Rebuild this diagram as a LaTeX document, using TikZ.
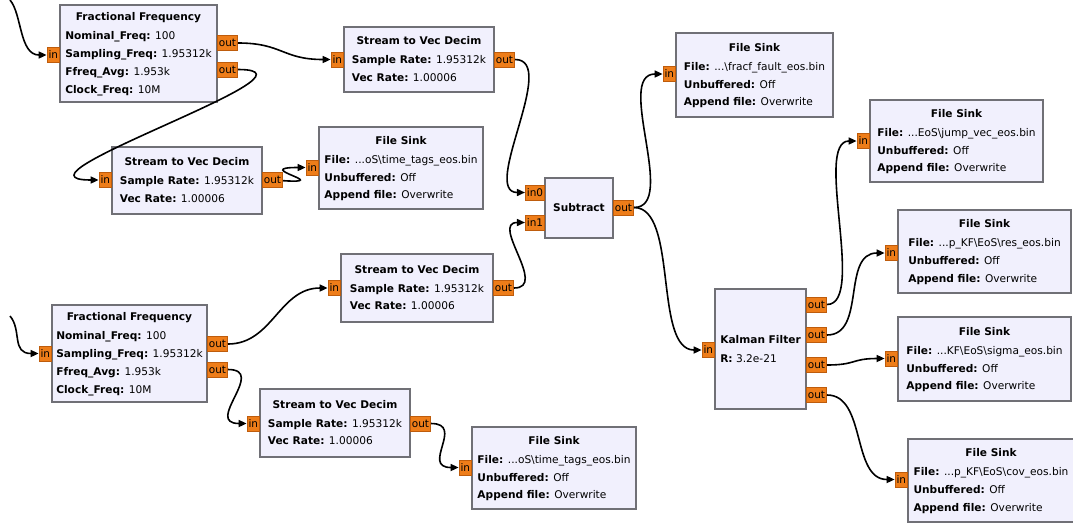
\documentclass[tikz,border=0pt]{standalone}
\usepackage{fontspec}
\setmainfont{DejaVu Sans}
\usetikzlibrary{arrows.meta}
\definecolor{blkfill}{RGB}{241,240,253}
\definecolor{blkline}{RGB}{112,112,118}
\definecolor{portfill}{RGB}{238,125,25}
\definecolor{portline}{RGB}{190,92,12}
\tikzset{
  % flowgraph block
  blk/.style={draw=blkline, fill=blkfill, line width=1.6pt, inner sep=0pt,
    font=\fontsize{10.6}{17.7}\selectfont},
  % in/out port
  port/.style={draw=portline, fill=portfill, line width=0.8pt, inner xsep=1.5pt,
    inner ysep=0pt, minimum height=15pt, font=\fontsize{10.5}{12}\selectfont},
  inport/.style={port, anchor=east},
  outport/.style={port, anchor=west},
  % connection
  wire/.style={line width=1.6pt, -{Triangle[length=8pt, width=7pt]}},
}

\begin{document}
\begin{tikzpicture}[x=1pt, y=-1pt]
  \useasboundingbox (0,0) rectangle (1073,523);

  % upper chain
  \node[blk, minimum width=157, minimum height=97] (ff1) at (138.5,53.5) {\begin{tabular}{@{}l@{}}
    \multicolumn{1}{@{}c@{}}{\bfseries Fractional Frequency}\\[1.3pt]
    \textbf{Nominal\_Freq:} 100\\
    \textbf{Sampling\_Freq:} 1.95312k\\
    \textbf{Ffreq\_Avg:} 1.953k\\
    \textbf{Clock\_Freq:} 10M
  \end{tabular}};
  \node[inport] (ff1in) at (60,55) {in};
  \node[outport] (ff1o1) at (217,43) {out};
  \node[outport] (ff1o2) at (217,69.5) {out};

  \node[blk, minimum width=150, minimum height=65] (svd1) at (419,59.5) {\begin{tabular}{@{}l@{}}
    \multicolumn{1}{@{}c@{}}{\bfseries Stream to Vec Decim}\\[1.3pt]
    \textbf{Sample Rate:} 1.95312k\\
    \textbf{Vec Rate:} 1.00006
  \end{tabular}};
  \node[inport] (svd1in) at (344,59.5) {in};
  \node[outport] (svd1out) at (494,59.5) {out};

  \node[blk, minimum width=150, minimum height=67] (svd2) at (187,180.5) {\begin{tabular}{@{}l@{}}
    \multicolumn{1}{@{}c@{}}{\bfseries Stream to Vec Decim}\\[1.3pt]
    \textbf{Sample Rate:} 1.95312k\\
    \textbf{Vec Rate:} 1.00006
  \end{tabular}};
  \node[inport] (svd2in) at (112,180) {in};
  \node[outport] (svd2out) at (262,180) {out};

  \node[blk, minimum width=164, minimum height=82] (fs1) at (401,168) {\begin{tabular}{@{}l@{}}
    \multicolumn{1}{@{}c@{}}{\bfseries File Sink}\\[1.3pt]
    \textbf{File:} ...oS\textbackslash time\_tags\_eos.bin\\
    \textbf{Unbuffered:} Off\\
    \textbf{Append file:} Overwrite
  \end{tabular}};
  \node[inport] (fs1in) at (319,167.5) {in};

  % lower chain
  \node[blk, minimum width=155, minimum height=97] (ff2) at (129.5,353.5) {\begin{tabular}{@{}l@{}}
    \multicolumn{1}{@{}c@{}}{\bfseries Fractional Frequency}\\[1.3pt]
    \textbf{Nominal\_Freq:} 100\\
    \textbf{Sampling\_Freq:} 1.95312k\\
    \textbf{Ffreq\_Avg:} 1.953k\\
    \textbf{Clock\_Freq:} 10M
  \end{tabular}};
  \node[inport] (ff2in) at (52,353.5) {in};
  \node[outport] (ff2o1) at (207,344) {out};
  \node[outport] (ff2o2) at (207,369.5) {out};

  \node[blk, minimum width=152, minimum height=68] (svd3) at (417,288) {\begin{tabular}{@{}l@{}}
    \multicolumn{1}{@{}c@{}}{\bfseries Stream to Vec Decim}\\[1.3pt]
    \textbf{Sample Rate:} 1.95312k\\
    \textbf{Vec Rate:} 1.00006
  \end{tabular}};
  \node[inport] (svd3in) at (341,288) {in};
  \node[outport] (svd3out) at (493,288) {out};

  \node[blk, minimum width=150, minimum height=68] (svd4) at (335,423) {\begin{tabular}{@{}l@{}}
    \multicolumn{1}{@{}c@{}}{\bfseries Stream to Vec Decim}\\[1.3pt]
    \textbf{Sample Rate:} 1.95312k\\
    \textbf{Vec Rate:} 1.00006
  \end{tabular}};
  \node[inport] (svd4in) at (260,423.5) {in};
  \node[outport] (svd4out) at (410,423.5) {out};

  \node[blk, minimum width=164, minimum height=82] (fs4) at (554,468) {\begin{tabular}{@{}l@{}}
    \multicolumn{1}{@{}c@{}}{\bfseries File Sink}\\[1.3pt]
    \textbf{File:} ...oS\textbackslash time\_tags\_eos.bin\\
    \textbf{Unbuffered:} Off\\
    \textbf{Append file:} Overwrite
  \end{tabular}};
  \node[inport] (fs4in) at (472,467.5) {in};

  % difference and filter
  \node[blk, minimum width=68, minimum height=60] (sub) at (579,208) {\bfseries Subtract};
  \node[inport] (subin0) at (545,192.5) {in0};
  \node[inport] (subin1) at (545,222.5) {in1};
  \node[outport] (subout) at (613,207.5) {out};

  \node[blk, minimum width=157, minimum height=84] (fs2) at (754.5,75) {\begin{tabular}{@{}l@{}}
    \multicolumn{1}{@{}c@{}}{\bfseries File Sink}\\[1.3pt]
    \textbf{File:} ...\textbackslash fracf\_fault\_eos.bin\\
    \textbf{Unbuffered:} Off\\
    \textbf{Append file:} Overwrite
  \end{tabular}};
  \node[inport] (fs2in) at (676,74) {in};

  \node[blk, minimum width=91, minimum height=120] (kf) at (760.5,349) {\begin{tabular}{@{}l@{}}
    \multicolumn{1}{@{}c@{}}{\bfseries Kalman Filter}\\[1.3pt]
    \textbf{R:} 3.2e-21
  \end{tabular}};
  \node[inport] (kfin) at (715,350) {in};
  \node[outport] (kfo1) at (806,304.5) {out};
  \node[outport] (kfo2) at (806,335) {out};
  \node[outport] (kfo3) at (806,365) {out};
  \node[outport] (kfo4) at (806,395) {out};

  % filter outputs
  \node[blk, minimum width=173, minimum height=82] (fs3) at (956.5,141) {\begin{tabular}{@{}l@{}}
    \multicolumn{1}{@{}c@{}}{\bfseries File Sink}\\[1.3pt]
    \textbf{File:} ...EoS\textbackslash jump\_vec\_eos.bin\\
    \textbf{Unbuffered:} Off\\
    \textbf{Append file:} Overwrite
  \end{tabular}};
  \node[inport] (fs3in) at (870,141) {in};

  \node[blk, minimum width=173, minimum height=83] (fs5) at (984.5,251.5) {\begin{tabular}{@{}l@{}}
    \multicolumn{1}{@{}c@{}}{\bfseries File Sink}\\[1.3pt]
    \textbf{File:} ...p\_KF\textbackslash EoS\textbackslash res\_eos.bin\\
    \textbf{Unbuffered:} Off\\
    \textbf{Append file:} Overwrite
  \end{tabular}};
  \node[inport] (fs5in) at (898,253) {in};

  \node[blk, minimum width=173, minimum height=84] (fs6) at (984.5,359) {\begin{tabular}{@{}l@{}}
    \multicolumn{1}{@{}c@{}}{\bfseries File Sink}\\[1.3pt]
    \textbf{File:} ...KF\textbackslash EoS\textbackslash sigma\_eos.bin\\
    \textbf{Unbuffered:} Off\\
    \textbf{Append file:} Overwrite
  \end{tabular}};
  \node[inport] (fs6in) at (898,358.5) {in};

  \node[blk, minimum width=166, minimum height=83] (fs7) at (991,480.5) {\begin{tabular}{@{}l@{}}
    \multicolumn{1}{@{}c@{}}{\bfseries File Sink}\\[1.3pt]
    \textbf{File:} ...p\_KF\textbackslash EoS\textbackslash cov\_eos.bin\\
    \textbf{Unbuffered:} Off\\
    \textbf{Append file:} Overwrite
  \end{tabular}};
  \node[inport] (fs7in) at (908,479.5) {in};

  % connections
  \coordinate (lead1) at (10,0);
  \coordinate (lead2) at (10,316);
  \draw[wire] (lead1) .. controls +(12,14) and +(-34,0) .. (ff1in);
  \draw[wire] (lead2) .. controls +(12,14) and +(-34,0) .. (ff2in);
  \draw[wire] (ff1o1) .. controls +(55,0) and +(-55,0) .. (svd1in);
  \draw[wire] (ff1o2) .. controls +(110,0) and +(-110,0) .. (svd2in);
  \draw[wire] (svd2out) .. controls +(62,4) and +(-62,0) .. (fs1in);
  \draw[wire] (svd1out) .. controls +(55,0) and +(-55,0) .. (subin0);
  \draw[wire] (svd3out) .. controls +(45,0) and +(-45,0) .. (subin1);
  \draw[wire] (ff2o1) .. controls +(55,0) and +(-55,0) .. (svd3in);
  \draw[wire] (ff2o2) .. controls +(50,0) and +(-50,0) .. (svd4in);
  \draw[wire] (svd4out) .. controls +(45,0) and +(-45,0) .. (fs4in);
  \draw[wire] (subout) .. controls +(55,0) and +(-55,0) .. (fs2in);
  \draw[wire] (subout) .. controls +(55,0) and +(-55,0) .. (kfin);
  \draw[wire] (kfo1) .. controls +(50,0) and +(-50,0) .. (fs3in);
  \draw[wire] (kfo2) .. controls +(50,0) and +(-50,0) .. (fs5in);
  \draw[wire] (kfo3) .. controls +(40,0) and +(-40,0) .. (fs6in);
  \draw[wire] (kfo4) .. controls +(50,0) and +(-50,0) .. (fs7in);
\end{tikzpicture}
\end{document}
